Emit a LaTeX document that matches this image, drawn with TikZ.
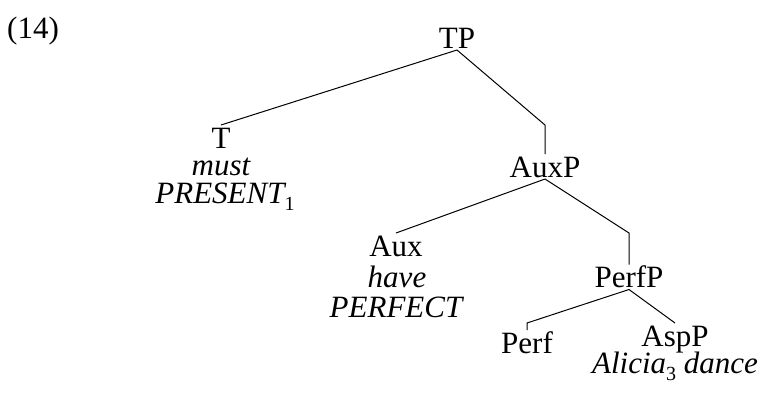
\documentclass[tikz,border=0pt]{standalone}
\usepackage{fontspec}
\setmainfont{Liberation Serif}
\usepackage{tikz}
\tikzstyle{cat} = [inner sep=0pt, outer sep=2pt, text height=21pt, text depth=0pt, anchor=base, font=\fontsize{31}{31}\selectfont]
\tikzstyle{lex} = [inner sep=0pt, anchor=base, font=\fontsize{31}{31}\selectfont\itshape]
\tikzstyle{exnum} = [inner sep=0pt, anchor=base west, font=\fontsize{31}{31}\selectfont]
\tikzstyle{branch} = [line width=1pt, line join=miter]
\newcommand{\subidx}[1]{\raisebox{-0.25em}{\fontsize{20}{20}\selectfont\upshape #1}}

\begin{document}
\begin{tikzpicture}[x=1pt, y=-1pt]
\useasboundingbox (0,0) rectangle (760,392);
\node (num) [exnum] at (7,38) {(14)};
\node (tp) [cat] at (457,48) {TP};
\node (t) [cat] at (221,148) {T};
\node (must) [lex] at (221,175) {must};
\node (present) [lex] at (220,203) {PRESENT\rlap{\subidx{1}}};
\node (auxp) [cat] at (545,177) {AuxP};
\node (aux) [cat] at (396,256) {Aux};
\node (have) [lex] at (397,287) {have};
\node (perfect) [lex] at (396,317) {PERFECT};
\node (perfp) [cat] at (629,287.5) {PerfP};
\node (perf) [cat] at (527,353) {Perf};
\node (aspp) [cat] at (675,346) {AspP};
\node (dance) [lex] at (675,373) {Alicia\subidx{3} dance};
\draw [branch] (tp.south) -- (t.north);
\draw [branch] (tp.south) -- (auxp.north |- t.north) -- (auxp.north);
\draw [branch] (auxp.south) -- (aux.north);
\draw [branch] (auxp.south) -- (perfp.north |- aux.north) -- (perfp.north);
\draw [branch] (perfp.south) -- (perf.north |- aspp.north) -- (perf.north);
\draw [branch] (perfp.south) -- (aspp.north);
\end{tikzpicture}
\end{document}
